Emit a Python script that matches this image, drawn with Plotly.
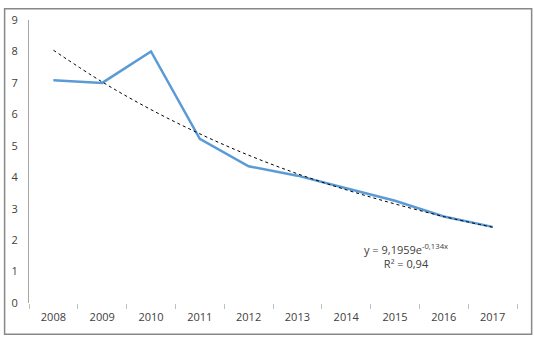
import plotly.graph_objects as go

years = ["2008", "2009", "2010", "2011", "2012", "2013", "2014", "2015", "2016", "2017"]
values = [7.08, 7.0, 8.0, 5.22, 4.35, 4.05, 3.65, 3.25, 2.75, 2.42]
trend_values = [8.04, 7.03, 6.15, 5.38, 4.70, 4.11, 3.60, 3.15, 2.75, 2.41]
y_ticks = [0, 1, 2, 3, 4, 5, 6, 7, 8, 9]

fig = go.Figure()
fig.add_trace(go.Scatter(x=years, y=values, mode="lines",
                         line=dict(color="#5B9BD5", width=2.5), showlegend=False))
fig.add_trace(go.Scatter(x=years, y=trend_values, mode="lines",
                         line=dict(color="#000000", width=1, dash="dot", shape="spline"),
                         showlegend=False))

fig.add_annotation(x=0.773, y=0.165, xref="paper", yref="paper",
                   xanchor="center", yanchor="middle",
                   text="y = 9,1959e<sup>-0,134x</sup><br>R² = 0,94",
                   showarrow=False, align="center",
                   font=dict(family="Open Sans", size=11, color="#404040"))

fig.add_shape(type="rect", xref="paper", yref="paper", x0=-0.05, x1=1.03, y0=-0.11, y1=1.04,
              line=dict(color="#888888", width=1.5))

fig.update_layout(
    width=534, height=337,
    margin=dict(l=27, r=17, t=13, b=34),
    plot_bgcolor="white", paper_bgcolor="white",
    font=dict(family="Open Sans", size=11, color="#404040"),
    xaxis=dict(type="category", showgrid=False, showline=False, zeroline=False,
               ticks="outside", tickson="boundaries", ticklen=5, tickcolor="#BFBFBF",
               range=[-0.5, 9.5], ticklabelstandoff=6),
    yaxis=dict(range=[0, 9], tickvals=y_ticks, showgrid=False, showline=True,
               linecolor="#A6A6A6", linewidth=1, zeroline=False, ticks="", ticklabelstandoff=8),
)

fig.write_html("out.html")
